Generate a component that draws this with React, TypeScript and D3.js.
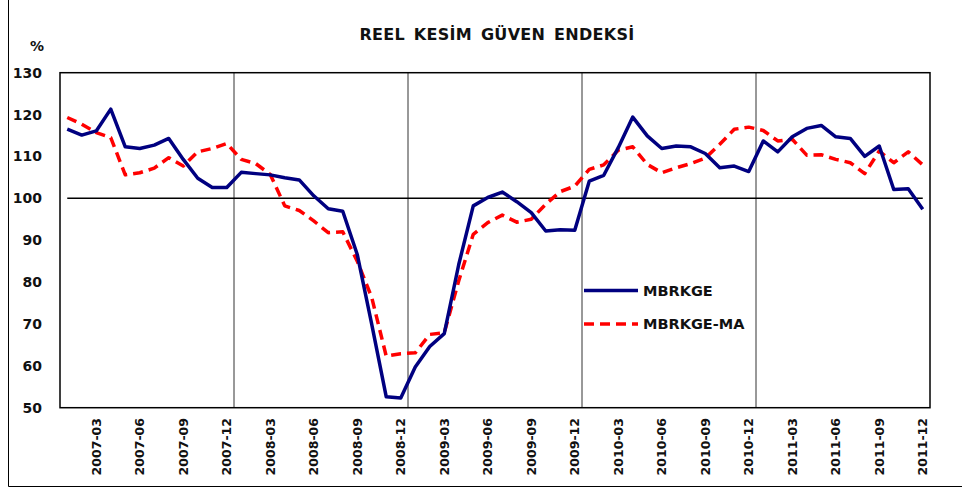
import React from 'react';
import * as d3 from 'd3';

const years = ['2007', '2008', '2009', '2010', '2011'];
const months = ['01', '02', '03', '04', '05', '06', '07', '08', '09', '10', '11', '12'];
const categories: string[] = [];
years.forEach(y => months.forEach(m => categories.push(y + '-' + m)));

const mbrkge = [
  116.5, 115.1, 116.1, 121.3, 112.3, 111.9, 112.7, 114.3, 109.3, 104.8, 102.6, 102.6,
  106.2, 105.9, 105.6, 104.9, 104.4, 100.6, 97.5, 96.9, 86.6, 69.9, 52.6, 52.3,
  59.7, 64.6, 67.7, 84.2, 98.2, 100.2, 101.5, 99.2, 96.6, 92.2, 92.5, 92.4,
  104.1, 105.5, 112.1, 119.4, 114.9, 111.9, 112.5, 112.3, 110.7, 107.3, 107.7, 106.4,
  113.7, 111.1, 114.7, 116.7, 117.4, 114.7, 114.3, 110.0, 112.5, 102.1, 102.3, 97.4
];

const mbrkgeMa = [
  119.3, 117.7, 115.7, 114.5, 105.6, 106.1, 107.2, 109.7, 107.7, 111.1, 111.9, 113.1,
  109.3, 108.3, 105.7, 98.2, 97.1, 94.6, 91.8, 92.0, 85.0, 76.3, 62.3, 62.9,
  63.1, 67.5, 67.9, 80.3, 91.4, 94.2, 96.0, 94.3, 95.0, 98.6, 101.6, 102.9,
  106.9, 108.0, 111.5, 112.3, 108.1, 106.1, 107.3, 108.3, 109.6, 112.9, 116.5, 117.0,
  116.2, 113.7, 114.1, 110.3, 110.4, 109.3, 108.5, 105.9, 111.3, 108.5, 111.1, 108.0
];

const yTicks = [50, 60, 70, 80, 90, 100, 110, 120, 130];
const xLabels = categories.filter(c => ['03', '06', '09', '12'].includes(c.slice(5)));

const font = '"DejaVu Sans", Verdana, sans-serif';

export default function App() {
  const width = 962;
  const height = 488;
  const left = 60, right = 930, top = 72.7, bottom = 407.7;

  const x = d3.scaleBand().domain(categories).range([left, right]);
  const y = d3.scaleLinear().domain([50, 130]).range([bottom, top]);
  const cx = (c: string) => (x(c) as number) + x.bandwidth() / 2;

  const line = d3.line<number>()
    .x((d, i) => cx(categories[i]))
    .y(d => y(d));

  // year boundaries (after each december, except the last)
  const gridCats = categories.filter((c, i) => c.endsWith('-12') && i < categories.length - 1);

  return (
    <svg width={width} height={height}
      style={{ position: 'absolute', left: 0, top: 0, background: '#fff' }}>
      <line x1={8.5} y1={0} x2={8.5} y2={486.5} stroke="#000" strokeWidth={1} />
      <line x1={8.5} y1={486.5} x2={962} y2={486.5} stroke="#000" strokeWidth={1} />

      <text x={497} y={40} textAnchor="middle" fontFamily={font} fontWeight="bold"
        fontSize={16} letterSpacing={0.3} wordSpacing={3} fill="#111">REEL KESİM GÜVEN ENDEKSİ</text>
      <text x={37} y={51} textAnchor="middle" fontFamily={font} fontWeight="bold"
        fontSize={14} fill="#111">%</text>

      {gridCats.map(c => (
        <line key={c} x1={(x(c) as number) + x.bandwidth()} x2={(x(c) as number) + x.bandwidth()}
          y1={top} y2={bottom} stroke="#333" strokeWidth={1} />
      ))}

      <line x1={cx(categories[0])} x2={cx(categories[categories.length - 1])}
        y1={y(100)} y2={y(100)} stroke="#000" strokeWidth={1.5} />

      <rect x={left} y={top} width={right - left} height={bottom - top}
        fill="none" stroke="#000" strokeWidth={1.5} />

      {yTicks.map(t => (
        <text key={t} x={42} y={y(t)} dy="0.36em" textAnchor="end" fontFamily={font}
          fontWeight="bold" fontSize={14} fill="#111">{t}</text>
      ))}

      {xLabels.map(c => (
        <text key={c} transform={`translate(${cx(c)},418) rotate(-90)`} dy="0.36em"
          textAnchor="end" fontFamily={font} fontWeight="bold" fontSize={12.5}
          fill="#111">{c}</text>
      ))}

      <path d={line(mbrkgeMa) || ''} fill="none" stroke="#ff0000" strokeWidth={3.5}
        strokeDasharray="10,6" strokeLinejoin="round" />
      <path d={line(mbrkge) || ''} fill="none" stroke="#000080" strokeWidth={3.5}
        strokeLinejoin="round" />

      <line x1={584} x2={638} y1={290.5} y2={290.5} stroke="#000080" strokeWidth={3.5} />
      <text x={643} y={290.5} dy="0.36em" fontFamily={font} fontWeight="bold"
        fontSize={14.5} fill="#111">MBRKGE</text>
      <line x1={584} x2={638} y1={324} y2={324} stroke="#ff0000" strokeWidth={3.5}
        strokeDasharray="10,6" />
      <text x={643} y={324} dy="0.36em" fontFamily={font} fontWeight="bold"
        fontSize={14.5} fill="#111">MBRKGE-MA</text>
    </svg>
  );
}
